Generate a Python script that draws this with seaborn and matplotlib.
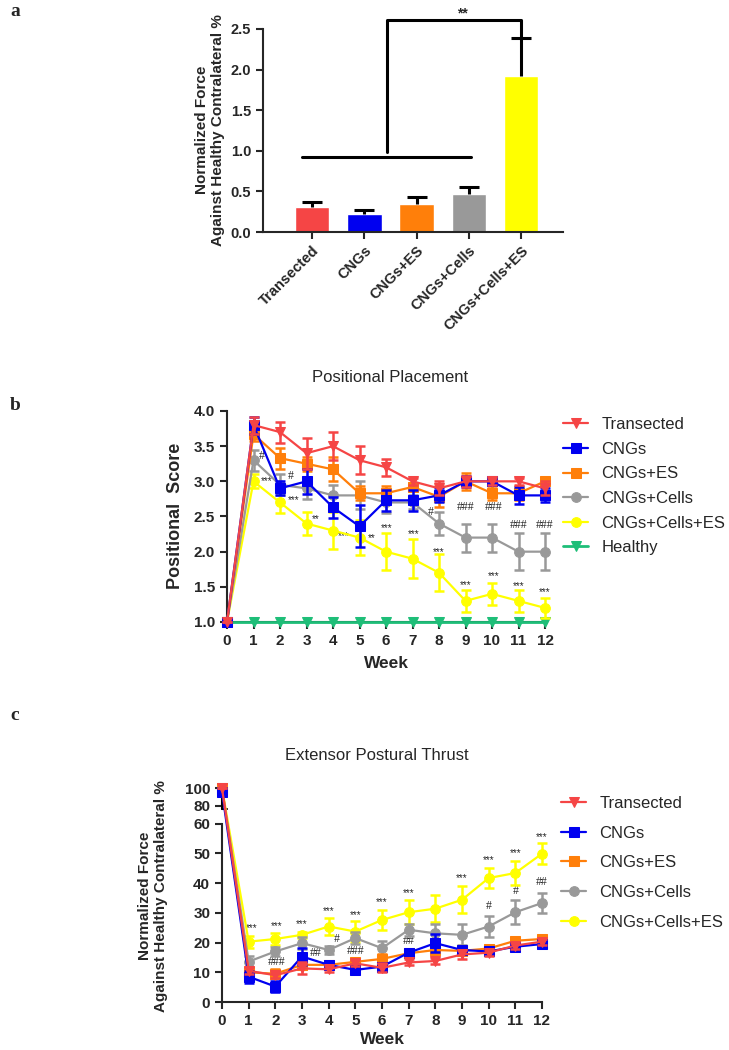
import numpy as np
import pandas as pd
import matplotlib.pyplot as plt
import seaborn as sns

sns.set_style("ticks")
plt.rcParams['font.family'] = ['Liberation Sans', 'DejaVu Sans']
plt.rcParams['axes.linewidth'] = 1.5

# ---------- data ----------
groups = ["Transected", "CNGs", "CNGs+ES", "CNGs+Cells", "CNGs+Cells+ES"]
group_colors = ["#F54545", "#0000F0", "#FF7F0A", "#999999", "#FFFF00"]
group_markers = ["v", "s", "s", "o", "o"]

# panel a: normalized force
force_mean = [0.31, 0.22, 0.34, 0.47, 1.92]
force_err = [0.06, 0.05, 0.09, 0.09, 0.47]

weeks = [0, 1, 2, 3, 4, 5, 6, 7, 8, 9, 10, 11, 12]

# panel b: positional placement
pos_transected = [1.0, 3.8, 3.7, 3.4, 3.5, 3.3, 3.2, 3.0, 2.9, 3.0, 3.0, 3.0, 2.9]
pos_transected_err = [0, 0.12, 0.15, 0.22, 0.2, 0.2, 0.12, 0.05, 0.1, 0.08, 0.05, 0.05, 0.1]
pos_cngs = [1.0, 3.8, 2.9, 3.0, 2.63, 2.36, 2.73, 2.73, 2.8, 3.0, 3.0, 2.8, 2.8]
pos_cngs_err = [0, 0.12, 0.1, 0.18, 0.15, 0.3, 0.15, 0.15, 0.1, 0.08, 0.05, 0.12, 0.1]
pos_es = [1.0, 3.67, 3.33, 3.25, 3.17, 2.83, 2.83, 2.92, 2.78, 3.0, 2.83, 2.83, 3.0]
pos_es_err = [0, 0.1, 0.15, 0.1, 0.17, 0.1, 0.1, 0.05, 0.15, 0.12, 0.1, 0.1, 0.05]
pos_cells = [1.0, 3.3, 2.95, 2.9, 2.8, 2.8, 2.7, 2.7, 2.4, 2.2, 2.2, 2.0, 2.0]
pos_cells_err = [0, 0.15, 0.15, 0.15, 0.15, 0.2, 0.15, 0.1, 0.17, 0.2, 0.2, 0.26, 0.26]
pos_cells_es = [1.0, 3.0, 2.7, 2.4, 2.3, 2.2, 2.0, 1.9, 1.7, 1.3, 1.4, 1.3, 1.2]
pos_cells_es_err = [0, 0.1, 0.15, 0.16, 0.26, 0.25, 0.26, 0.28, 0.26, 0.16, 0.16, 0.16, 0.14]
pos_healthy = [1.0, 1.0, 1.0, 1.0, 1.0, 1.0, 1.0, 1.0, 1.0, 1.0, 1.0, 1.0, 1.0]
healthy_color = "#1EBE78"

b_sig_text = ["#", "***", "#", "***", "**", "***", "**", "***", "***", "#", "***",
              "###", "***", "###", "***", "###", "***", "###", "***"]
b_sig_x = [1.3, 1.48, 2.39, 2.5, 3.35, 4.4, 5.46, 6.03, 7.03, 7.7, 8.0,
           9.0, 9.0, 10.05, 10.05, 11.0, 11.0, 12.0, 12.0]
b_sig_y = [3.36, 3.0, 3.07, 2.73, 2.47, 2.22, 2.19, 2.33, 2.25, 2.56, 2.0,
           2.64, 1.53, 2.64, 1.66, 2.38, 1.51, 2.38, 1.42]

# panel c: extensor postural thrust
ept_transected = [100, 10.5, 9.0, 11.3, 11.0, 13.0, 11.5, 13.3, 13.8, 16.0, 16.6, 19.0, 20.3]
ept_transected_err = [0, 1.2, 1.0, 2.0, 1.0, 1.0, 1.5, 1.0, 1.0, 1.5, 1.0, 1.0, 1.0]
ept_cngs = [96, 8.5, 5.2, 15.3, 12.5, 10.8, 11.9, 16.6, 19.8, 17.5, 17.0, 18.6, 19.5]
ept_cngs_err = [0, 2.0, 2.0, 3.0, 1.0, 1.0, 1.0, 1.0, 3.0, 1.0, 1.0, 1.0, 1.0]
ept_es = [100, 10.0, 9.5, 12.5, 12.5, 13.5, 14.5, 16.4, 17.5, 17.2, 18.0, 20.6, 21.2]
ept_es_err = [0, 1.5, 1.5, 1.0, 1.0, 1.0, 1.5, 1.0, 1.5, 1.0, 1.0, 1.0, 1.0]
ept_cells = [100, 13.6, 17.0, 19.8, 17.5, 21.5, 18.1, 24.3, 23.1, 22.6, 25.4, 30.2, 33.3]
ept_cells_err = [0, 2.0, 1.5, 2.0, 1.5, 2.0, 2.5, 2.0, 3.0, 3.5, 3.5, 4.0, 3.5]
ept_cells_es = [100, 20.3, 21.2, 22.6, 25.4, 23.7, 27.6, 30.2, 31.4, 34.4, 41.7, 43.4, 49.9]
ept_cells_es_err = [0, 2.0, 2.0, 1.0, 3.0, 3.5, 3.5, 4.0, 4.5, 4.5, 3.5, 4.0, 3.5]

c_sig_text = ["***", "***", "***", "***", "***", "***", "***", "***", "***", "***", "***",
              "###", "##", "#", "###", "##", "#", "#", "##"]
c_sig_x = [1.1, 2.05, 3, 4, 5, 6, 7, 9, 10, 11, 12,
           2.05, 3.5, 4.3, 5.0, 7.0, 10.0, 11.0, 12.0]
c_sig_y = [24.8, 25.5, 26.3, 30.7, 29.3, 33.5, 36.6, 41.6, 47.6, 50.0, 55.4,
           13.6, 16.6, 21.1, 17.1, 20.6, 32.4, 37.4, 40.3]

W, H = 729, 1050
fig = plt.figure(figsize=(W / 100, H / 100), dpi=100)


def px_axes(x0, y0, x1, y1):
    return fig.add_axes([x0 / W, 1 - y1 / H, (x1 - x0) / W, (y1 - y0) / H])


def bold_ticks(ax, size):
    ax.tick_params(axis="both", labelsize=size, width=1.5, length=5, direction="out")
    for lab in ax.get_xticklabels() + ax.get_yticklabels():
        lab.set_fontweight("bold")


# ---------- panel a ----------
ax_a = px_axes(263, 29, 563, 232)
bar_df = pd.DataFrame({"group": groups, "force": force_mean})
sns.barplot(data=bar_df, x="group", y="force", hue="group", palette=group_colors,
            saturation=1, width=0.66, legend=False, ax=ax_a)
eb = ax_a.errorbar(range(len(groups)), force_mean, yerr=[[0] * len(groups), force_err],
                   fmt="none", ecolor="black", elinewidth=2.2, capsize=7, capthick=2.2,
                   clip_on=False)
# only the upper cap, like the original
eb[1][0].set_visible(False)
ax_a.set_xlim(-0.94, 4.8)
ax_a.set_ylim(0, 2.5)
ax_a.set_yticks([0, 0.5, 1.0, 1.5, 2.0, 2.5])
ax_a.set_yticklabels(["0.0", "0.5", "1.0", "1.5", "2.0", "2.5"])
ax_a.set_xlabel("")
ax_a.set_ylabel("")
sns.despine(ax=ax_a)
bold_ticks(ax_a, 10.5)
for lab in ax_a.get_xticklabels():
    lab.set_rotation(45)
    lab.set_ha("right")
    lab.set_rotation_mode("anchor")
# significance bracket
ax_a.plot([-0.2, 3.04], [0.92, 0.92], color="black", lw=2.2, clip_on=False)
ax_a.plot([1.44, 1.44, 4.0, 4.0], [0.985, 2.61, 2.61, 2.39], color="black", lw=2.2,
          clip_on=False)
ax_a.text(2.87, 2.69, "**", ha="center", va="center", fontsize=10, fontweight="bold")
fig.text(210 / W, 1 - 130 / H, "Normalized Force\nAgainst Healthy Contralateral %",
         rotation=90, ha="center", va="center", fontsize=11, fontweight="bold",
         linespacing=1.1)

# ---------- panel b ----------
ax_b = px_axes(227, 411, 545, 622)
pos_series = [pos_transected, pos_cngs, pos_es, pos_cells, pos_cells_es]
pos_errs = [pos_transected_err, pos_cngs_err, pos_es_err, pos_cells_err, pos_cells_es_err]
sns.lineplot(x=weeks, y=pos_healthy, color=healthy_color, marker="v", markersize=7,
             markeredgecolor=healthy_color, linewidth=2, label="Healthy", ax=ax_b, zorder=3)
for i in range(len(groups) - 1, -1, -1):
    c = group_colors[i]
    z = 10 - i
    sns.lineplot(x=weeks, y=pos_series[i], color=c, marker=group_markers[i], markersize=7,
                 markeredgecolor=c, linewidth=1.6, label=groups[i], ax=ax_b, zorder=z)
    ax_b.errorbar(weeks, pos_series[i], yerr=pos_errs[i], fmt="none", ecolor=c,
                  elinewidth=1.8, capsize=3.5, capthick=1.8, zorder=z - 0.5)
for art in ax_b.lines + ax_b.collections:
    art.set_clip_on(False)
ax_b.set_xlim(0, 12)
ax_b.set_ylim(1.0, 4.0)
ax_b.set_xticks(weeks)
ax_b.set_yticks([1.0, 1.5, 2.0, 2.5, 3.0, 3.5, 4.0])
ax_b.set_yticklabels(["1.0", "1.5", "2.0", "2.5", "3.0", "3.5", "4.0"])
sns.despine(ax=ax_b)
bold_ticks(ax_b, 11)
for t, x, y in zip(b_sig_text, b_sig_x, b_sig_y):
    ax_b.text(x, y, t, ha="center", va="center", fontsize=7 if "*" in t else 8.5,
              family=["Liberation Serif", "DejaVu Serif"] if "#" in t else None)
handles, labels = ax_b.get_legend_handles_labels()
order = [labels.index(n) for n in groups + ["Healthy"]]
ax_b.legend([handles[k] for k in order], [labels[k] for k in order],
            loc="upper left", bbox_to_anchor=(563 / W, 1 - 417 / H),
            bbox_transform=fig.transFigure, frameon=False, fontsize=12,
            handlelength=1.5, handletextpad=0.8, labelspacing=0.58,
            borderpad=0, borderaxespad=0)
ax_b.set_xlabel("")
ax_b.set_ylabel("")
fig.text(390 / W, 1 - 377 / H, "Positional Placement", ha="center", va="center", fontsize=12)
fig.text(175 / W, 1 - 516 / H, "Positional  Score", rotation=90, ha="center",
         va="center", fontsize=13, fontweight="bold")
fig.text(386 / W, 1 - 663 / H, "Week", ha="center", va="center", fontsize=12.5,
         fontweight="bold")

# ---------- panel c ----------
k_top = 0.3


def fwd(y):
    y = np.asarray(y, dtype=float)
    return np.where(y <= 60, y, 60 + (y - 60) * k_top)


def inv(y):
    y = np.asarray(y, dtype=float)
    return np.where(y <= 60, y, 60 + (y - 60) / k_top)


ax_c = px_axes(222, 788, 542, 1002)
ax_c.set_yscale("function", functions=(fwd, inv))
ept_series = [ept_transected, ept_cngs, ept_es, ept_cells, ept_cells_es]
ept_errs = [ept_transected_err, ept_cngs_err, ept_es_err, ept_cells_err, ept_cells_es_err]
for i in range(len(groups) - 1, -1, -1):
    c = group_colors[i]
    z = 10 - i
    sns.lineplot(x=weeks, y=ept_series[i], color=c, marker=group_markers[i], markersize=7,
                 markeredgecolor=c, linewidth=1.6, label=groups[i], ax=ax_c, zorder=z)
    ax_c.errorbar(weeks, ept_series[i], yerr=ept_errs[i], fmt="none", ecolor=c,
                  elinewidth=1.8, capsize=3.5, capthick=1.8, zorder=z - 0.5)
for art in ax_c.lines + ax_c.collections:
    art.set_clip_on(False)
ax_c.set_xlim(0, 12)
ax_c.set_ylim(0, 100)
ax_c.set_xticks(weeks)
ax_c.set_yticks([0, 10, 20, 30, 40, 50, 60, 80, 100])
ax_c.set_yticklabels(["0", "10", "20", "30", "40", "50", "60", "80", "100"])
sns.despine(ax=ax_c)
ax_c.spines["left"].set_bounds(0, 60)
ytr = ax_c.get_yaxis_transform()
ax_c.plot([0, 0], [76, 100], color="black", lw=1.5, transform=ytr, clip_on=False)
ax_c.plot([0, 0.015], [76, 76], color="black", lw=1.5, transform=ytr, clip_on=False)
bold_ticks(ax_c, 11)
for t, x, y in zip(c_sig_text, c_sig_x, c_sig_y):
    ax_c.text(x, y, t, ha="center", va="center", fontsize=7 if "*" in t else 8.5,
              family=["Liberation Serif", "DejaVu Serif"] if "#" in t else None)
handles, labels = ax_c.get_legend_handles_labels()
order = [labels.index(n) for n in groups]
ax_c.legend([handles[k] for k in order], [labels[k] for k in order],
            loc="upper left", bbox_to_anchor=(561 / W, 1 - 796 / H),
            bbox_transform=fig.transFigure, frameon=False, fontsize=12,
            handlelength=1.5, handletextpad=0.8, labelspacing=0.88,
            borderpad=0, borderaxespad=0)
ax_c.set_xlabel("")
ax_c.set_ylabel("")
fig.text(377 / W, 1 - 755 / H, "Extensor Postural Thrust", ha="center", va="center",
         fontsize=12)
fig.text(153 / W, 1 - 896 / H, "Normalized Force\nAgainst Healthy Contralateral %",
         rotation=90, ha="center", va="center", fontsize=11, fontweight="bold",
         linespacing=1.15)
fig.text(382 / W, 1 - 1040 / H, "Week", ha="center", va="center", fontsize=12.5,
         fontweight="bold")

# panel letters
for letter, ypx in [("a", 12), ("b", 405), ("c", 716)]:
    fig.text(10 / W, 1 - ypx / H, letter, ha="left", va="center", fontsize=14,
             fontweight="bold", family=["Liberation Serif", "DejaVu Serif"])

fig.savefig("out.png", dpi=100)
